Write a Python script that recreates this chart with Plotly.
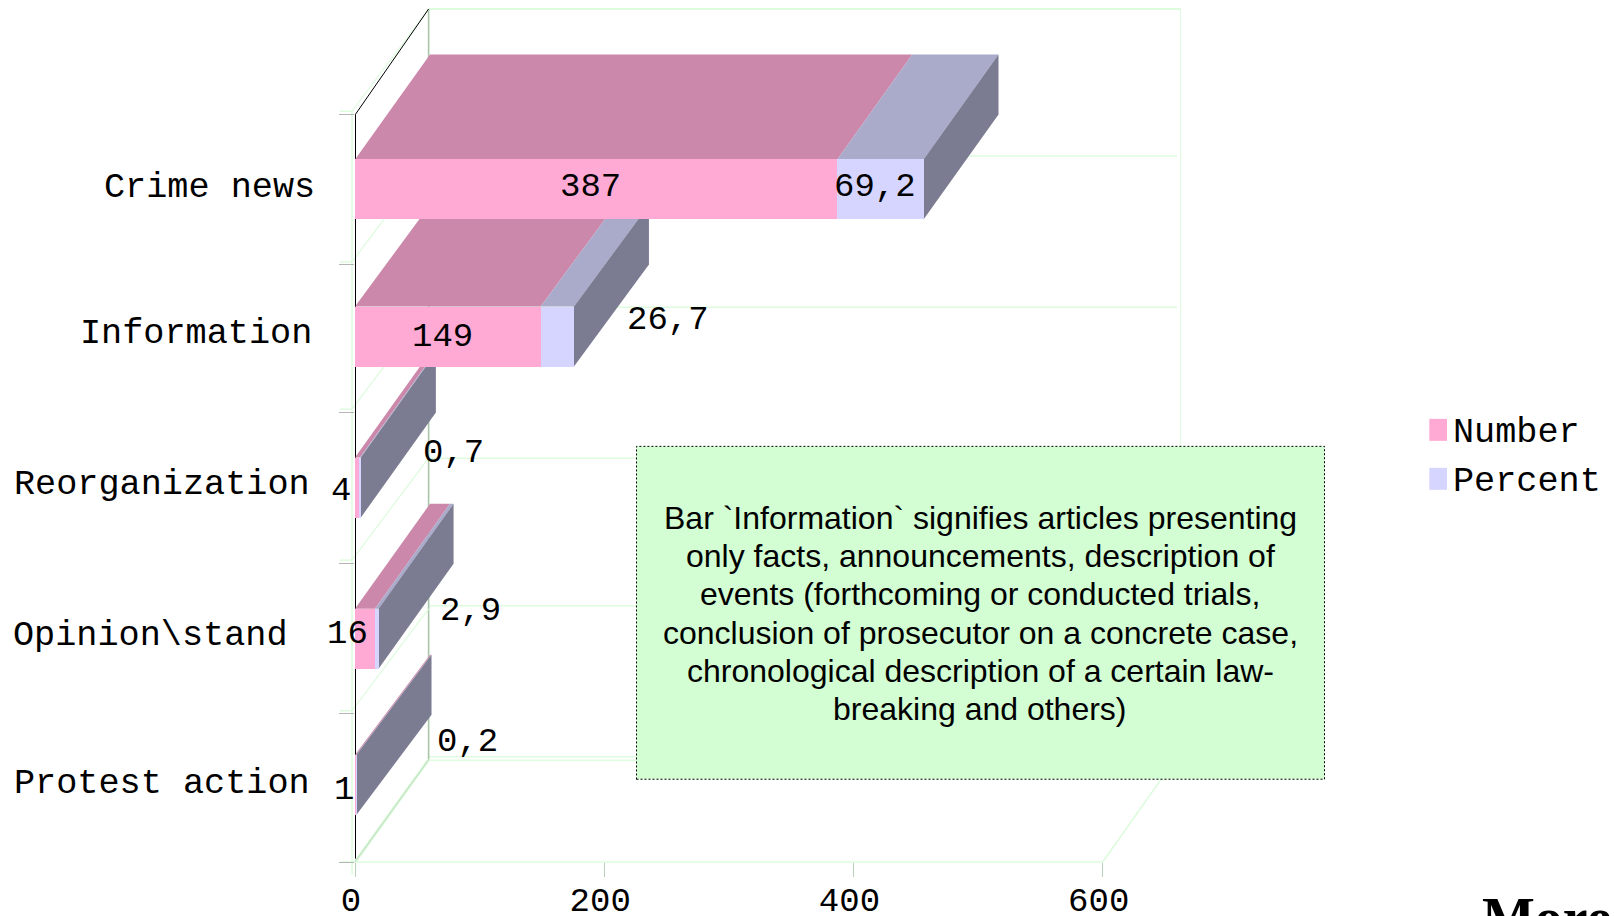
import plotly.graph_objects as go

# ---------- data ----------
categories = ["Crime news", "Information", "Reorganization", "Opinion\\stand", "Protest action"]
number = [387, 149, 4, 16, 1]
percent = [69.2, 26.7, 0.7, 2.9, 0.2]
x_ticks = [0, 200, 400, 600]
note_lines = [
    "Bar `Information` signifies articles presenting",
    "only facts, announcements, description of",
    "events (forthcoming or conducted trials,",
    "conclusion of prosecutor on a concrete case,",
    "chronological description of a certain law-",
    "breaking and others)",
]

# ---------- layout constants (pixels in the 1614x916 frame) ----------
W, H = 1614, 916
X0, X600 = 355.0, 1102.7     # pixel of value 0 and value 600
Y_BOT, Y_TOP = 862.3, 114.3  # pixel of the category axis ends
WALL_TOP, WALL_RIGHT = 9.0, 1181.0
DPX, DPY = 73.6, -105.0      # perspective offset of the walls
BAR_DPX = 75.0               # perspective offset of the bars
bar_depth_py = [105, 102, 105, 105, 100]
BAR_H = 60.0
bar_center_px = [189.5, 336.7, 487.7, 639.0, 785.0]
y_tick_px = [114.3, 265.0, 412.3, 563.3, 714.0, 862.3]
back_line_px = [156.0, 307.3, 458.3, 606.0, 757.0]

# centre of each text, in pixels
cat_label_right = [316, 313, 311, 289, 311]
cat_label_y = [188, 334, 485, 636, 784]
num_label_xy = [(590.5, 187), (442, 337), (341, 491), (347.6, 634), (344, 790)]
pct_label_xy = [(874.5, 187), (667.5, 320), (453, 453), (470.7, 611), (467, 742)]

PINK, LAV = "#ffaad5", "#d5d5ff"
PINK_TOP, LAV_TOP = "#cc88aa", "#aaaacb"
SIDE = "#7b7b92"
PALE = "#ddfcdd"
MONO = "Liberation Mono"
MONO_SIZE = 34

PX_PER_X = (X600 - X0) / 600
PX_PER_Y = (Y_BOT - Y_TOP) / 5


def vx(px):
    return (px - X0) / PX_PER_X


def vy(py):
    return (Y_BOT - py) / PX_PER_Y


def xp(px):
    return (px - X0) / (WALL_RIGHT - X0)


def yp(py):
    return (Y_BOT - py) / (Y_BOT - WALL_TOP)


dx_val = BAR_DPX / PX_PER_X
bar_pos = [vy(p) for p in bar_center_px]
bar_w = BAR_H / PX_PER_Y
half = bar_w / 2

fig = go.Figure()


def poly(xs, ys, color):
    fig.add_trace(go.Scatter(
        x=xs + xs[:1], y=ys + ys[:1], mode="lines", fill="toself", fillcolor=color,
        line=dict(width=0, color=color), hoverinfo="skip", showlegend=False,
        xaxis="x", yaxis="y"))


# depth faces, the lowest category is painted first
for i in reversed(range(len(categories))):
    n, p, c = number[i], percent[i], bar_pos[i]
    t, b = c + half, c - half
    dy_val = bar_depth_py[i] / PX_PER_Y
    poly([0, n, n + dx_val, dx_val], [t, t, t + dy_val, t + dy_val], PINK_TOP)
    poly([n, n + p, n + p + dx_val, n + dx_val], [t, t, t + dy_val, t + dy_val], LAV_TOP)
    e = n + p
    poly([e, e + dx_val, e + dx_val, e], [t, t + dy_val, b + dy_val, b], SIDE)

# front faces on an overlaid pair of axes so they sit above the depth faces
fig.add_trace(go.Bar(y=bar_pos, x=number, width=bar_w, orientation="h",
                     marker=dict(color=PINK, line=dict(width=0)), name="Number",
                     xaxis="x2", yaxis="y2", showlegend=False))
fig.add_trace(go.Bar(y=bar_pos, x=percent, width=bar_w, orientation="h",
                     marker=dict(color=LAV, line=dict(width=0)), name="Percent",
                     xaxis="x2", yaxis="y2", showlegend=False))

shapes = []


def seg(x1, y1, x2, y2, color=PALE, width=1.5):
    shapes.append(dict(type="line", xref="paper", yref="paper", layer="below",
                       x0=xp(x1), y0=yp(y1), x1=xp(x2), y1=yp(y2),
                       line=dict(color=color, width=width)))


BX = X0 + DPX
RIGHT = 1177.0
# back wall
for py in back_line_px:
    seg(BX, py, RIGHT, py)
seg(BX, WALL_TOP, WALL_RIGHT, WALL_TOP, width=2)
seg(BX, 760.5, RIGHT, 760.5)
seg(1180.6, WALL_TOP, 1180.6, 757, width=1)
seg(BX, WALL_TOP, BX, 760, color="#a9c5a9", width=1.6)
# left wall
seg(352, 111, 352, 875, width=1.5)
for py in y_tick_px[:-1]:
    seg(340, py - 3, 352, py - 3)
    seg(352, py - 3, BX, py + DPY, width=1.2)
# category axis line and value axis line
seg(355.5, Y_TOP, 355.5, Y_BOT, color="#000000", width=1)
seg(340, Y_BOT, X600, Y_BOT)
seg(355.5, Y_TOP, BX, WALL_TOP, color="#000000", width=1)
# floor
seg(X0, Y_BOT, BX, 760, color="#dcfcdc", width=3)
seg(X0, Y_BOT, BX, 760, color="#b5ccb5", width=0.8)
seg(X600, Y_BOT, RIGHT, 757)

# note box
shapes.append(dict(type="rect", xref="paper", yref="paper", layer="above",
                   x0=xp(636.5), x1=xp(1324.5), y0=yp(779.5), y1=yp(446.5),
                   fillcolor="#d3fdd3", line=dict(color="#000000", width=1, dash="2px,2px")))

annotations = []


def label(text, px, py, size=MONO_SIZE, family=MONO, anchor="center"):
    annotations.append(dict(xref="paper", yref="paper", x=xp(px), y=yp(py), text=text, showarrow=False,
                            xanchor=anchor, yanchor="middle", borderpad=0,
                            font=dict(family=family, size=size, color="black")))


# legend
legend_items = [("Number", PINK, 419, 441), ("Percent", LAV, 468, 490)]
legend_text_y = [433, 482]
for (name, col, top, bot), ty in zip(legend_items, legend_text_y):
    shapes.append(dict(type="rect", xref="paper", yref="paper", layer="above",
                       x0=xp(1429.3), x1=xp(1447), y0=yp(bot), y1=yp(top),
                       fillcolor=col, line=dict(width=0)))
    label(name, 1452, ty, size=35.2, anchor="left")

for name, rx, py in zip(categories, cat_label_right, cat_label_y):
    label(name, rx, py, size=35.2, anchor="right")
for v, (px, py) in zip(number, num_label_xy):
    label(str(v), px, py)
for v, (px, py) in zip(percent, pct_label_xy):
    label(str(v).replace(".", ","), px, py)
for i, line in enumerate(note_lines):
    label(line, 980, 518 + 38.3 * i, size=32, family="Liberation Sans")
label("<b>More</b>", 1481, 918, size=56, family="Liberation Serif", anchor="left")

fig.update_layout(
    width=W, height=H, autosize=False, paper_bgcolor="white", plot_bgcolor="rgba(0,0,0,0)",
    margin=dict(l=X0, r=W - WALL_RIGHT, t=WALL_TOP, b=H - Y_BOT, pad=0, autoexpand=False),
    barmode="stack", showlegend=False, shapes=shapes, annotations=annotations,
    xaxis=dict(range=[0, vx(WALL_RIGHT)], tickmode="array", tickvals=x_ticks, ticks="outside", ticklen=14,
               tickcolor="#b9cfb9", tickwidth=1, showgrid=False, zeroline=False, showline=False,
               layer="below traces", ticklabelshift=-4, ticklabelstandoff=-7, automargin=False,
               tickfont=dict(family=MONO, size=MONO_SIZE, color="black")),
    yaxis=dict(range=[0, vy(WALL_TOP)], tickmode="array", tickvals=[vy(p) for p in y_tick_px], ticks="outside",
               ticklen=15, tickcolor="#b5b5b5", tickwidth=1, showticklabels=False, showgrid=False,
               zeroline=False, showline=False, layer="below traces", automargin=False),
    xaxis2=dict(range=[0, vx(WALL_RIGHT)], overlaying="x", visible=False),
    yaxis2=dict(range=[0, vy(WALL_TOP)], overlaying="y", visible=False),
)

fig.write_html("out.html", config=dict(displayModeBar=False),
               post_script="document.body.style.margin='0';document.documentElement.style.overflow='hidden';")
